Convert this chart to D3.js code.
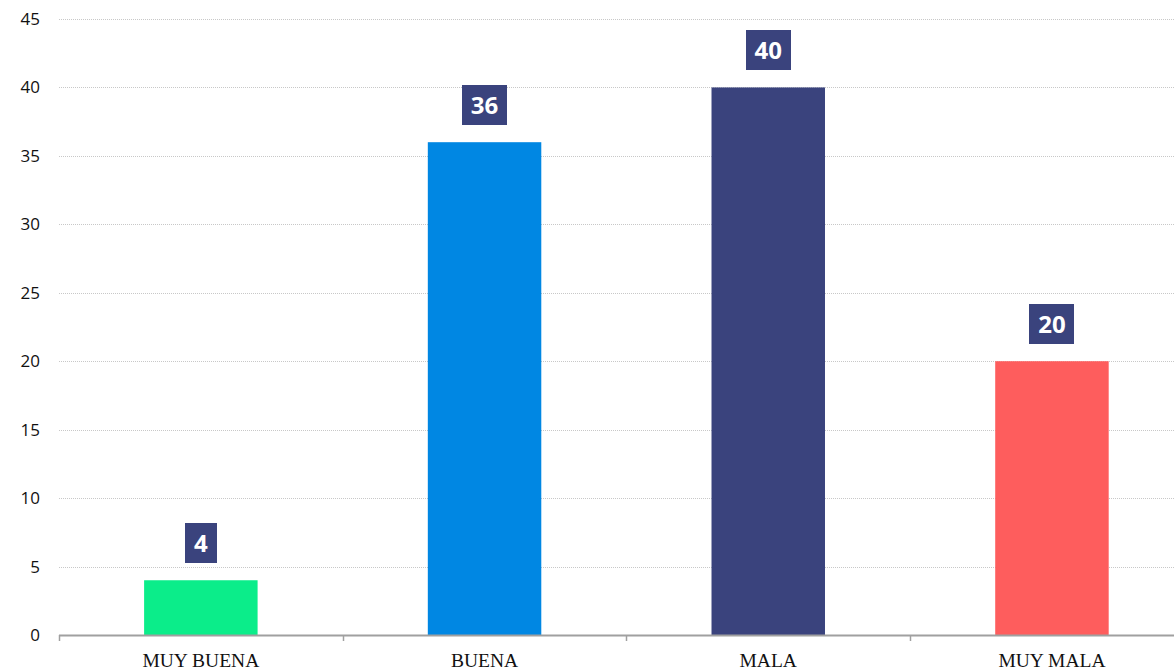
<!DOCTYPE html>
<html>
<head>
<meta charset="utf-8">
<script src="https://cdnjs.cloudflare.com/ajax/libs/d3/7.8.5/d3.min.js"></script>
<style>
    body { margin: 0; background: #fff; overflow: hidden; }
    svg { display: block; }
</style>
</head>
<body>
<svg width="1174" height="670"></svg>
<script>
// datos
var categories = ["MUY BUENA", "BUENA", "MALA", "MUY MALA"];
var values = [4, 36, 40, 20];
var barColors = ["#0bed8a", "#0087e3", "#3a437d", "#fe5d5d"];
var yTicks = [0, 5, 10, 15, 20, 25, 30, 35, 40, 45];

var svg = d3.select("svg");
var plotLeft = 59, plotTop = 19, plotBottom = 635;

var x = d3.scaleBand()
    .domain(categories)
    .range([plotLeft, plotLeft + 4 * 283.7])
    .paddingInner(0.6)
    .paddingOuter(0.3);

var y = d3.scaleLinear()
    .domain([0, 45])
    .range([plotBottom, plotTop]);

//lineas de fondo
svg.append("g")
    .selectAll("line")
    .data(yTicks.filter(function (d) { return d > 0; }))
    .enter()
    .append("line")
    .attr("x1", plotLeft)
    .attr("x2", 1174)
    .attr("y1", function (d) { return Math.round(y(d)) + 0.5; })
    .attr("y2", function (d) { return Math.round(y(d)) + 0.5; })
    .attr("stroke", "#c8c8c8")
    .attr("stroke-width", 1)
    .attr("stroke-dasharray", "1,1");

// eje y (solo etiquetas)
svg.append("g")
    .selectAll("text")
    .data(yTicks)
    .enter()
    .append("text")
    .attr("x", 40)
    .attr("y", function (d) { return y(d); })
    .attr("dy", ".35em")
    .attr("text-anchor", "end")
    .attr("font-family", "Open Sans, Noto Sans, sans-serif")
    .attr("font-size", 17)
    .attr("fill", "#111")
    .text(function (d) { return d; });

//barras
svg.append("g")
    .selectAll("rect")
    .data(values)
    .enter()
    .append("rect")
    .attr("x", function (d, i) { return x(categories[i]); })
    .attr("y", function (d) { return y(d); })
    .attr("width", x.bandwidth())
    .attr("height", function (d) { return plotBottom - y(d); })
    .attr("fill", function (d, i) { return barColors[i]; });

// eje x
svg.append("line")
    .attr("x1", plotLeft)
    .attr("x2", 1174)
    .attr("y1", plotBottom + 0.5)
    .attr("y2", plotBottom + 0.5)
    .attr("stroke", "#a0a0a0")
    .attr("stroke-width", 2);

svg.append("g")
    .selectAll("line")
    .data(d3.range(categories.length + 1))
    .enter()
    .append("line")
    .attr("x1", function (i) { return Math.round(plotLeft + i * x.step()) + 0.5; })
    .attr("x2", function (i) { return Math.round(plotLeft + i * x.step()) + 0.5; })
    .attr("y1", plotBottom)
    .attr("y2", plotBottom + 6)
    .attr("stroke", "#a0a0a0")
    .attr("stroke-width", 1.5);

svg.append("g")
    .selectAll("text")
    .data(categories)
    .enter()
    .append("text")
    .attr("x", function (d) { return x(d) + x.bandwidth() / 2; })
    .attr("y", 667)
    .attr("text-anchor", "middle")
    .attr("font-family", "Liberation Serif, Times New Roman, serif")
    .attr("font-size", 19.5)
    .attr("fill", "#111")
    .text(function (d) { return d; });

//etiquetas de datos
var labels = svg.append("g")
    .selectAll("g")
    .data(values)
    .enter()
    .append("g");

labels.append("text")
    .attr("x", function (d, i) { return x(categories[i]) + x.bandwidth() / 2; })
    .attr("y", function (d) { return y(d) - 37; })
    .attr("dy", ".36em")
    .attr("text-anchor", "middle")
    .attr("font-family", "Open Sans, Noto Sans, sans-serif")
    .attr("font-weight", "bold")
    .attr("font-size", 24)
    .attr("fill", "#fff")
    .text(function (d) { return d; })
    .each(function () {
        var bb = this.getBBox();
        d3.select(this.parentNode).insert("rect", "text")
            .attr("x", Math.round(bb.x - 9))
            .attr("y", Math.round(+d3.select(this).attr("y") - 20))
            .attr("width", Math.round(bb.width + 18))
            .attr("height", 40)
            .attr("fill", "#3a437d");
    });
</script>
</body>
</html>
